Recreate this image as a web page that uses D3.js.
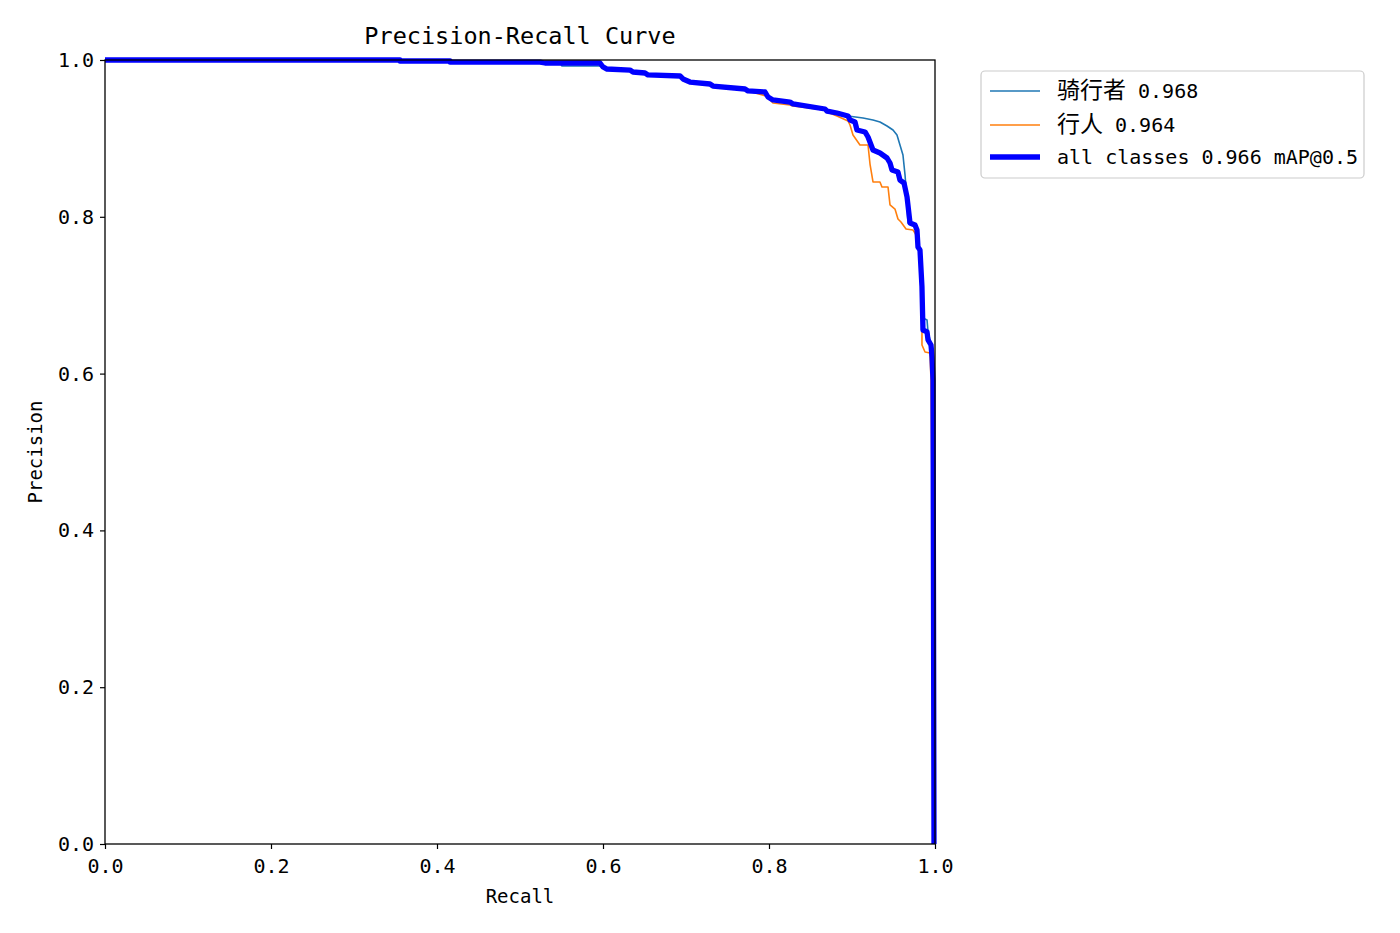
<!DOCTYPE html>
<html><head><meta charset="utf-8">
<script src="https://cdn.jsdelivr.net/npm/d3@7"></script>
<style>
body{margin:0;background:#fff;}
text{font-family:"DejaVu Sans Mono","Noto Sans CJK SC",monospace;fill:#000;}
</style></head>
<body><svg id="c" width="1400" height="933"></svg>
<script>
// ---- data: (recall, precision) points ----
const allRecall = [0,0.3554,0.3554,0.4157,0.4157,0.5241,0.5301,0.5964,0.6,0.6048,0.6325,0.6361,0.6506,0.6542,0.6928,0.6964,0.7048,0.7289,0.7325,0.7711,0.7747,0.7952,0.7988,0.8048,0.8253,0.8289,0.8675,0.8699,0.8819,0.8952,0.8976,0.9036,0.9060,0.9157,0.9193,0.9253,0.9337,0.9422,0.9458,0.9482,0.9554,0.9578,0.9627,0.9663,0.9699,0.9759,0.9783,0.9795,0.9819,0.9843,0.9855,0.9904,0.9916,0.9952,0.9964,0.9976,0.9982,0.9988];
const allPrecision = [1,1,0.9987,0.9987,0.9974,0.9974,0.9962,0.9962,0.9911,0.9885,0.9872,0.9847,0.9834,0.9809,0.9796,0.9758,0.9719,0.9694,0.9668,0.9630,0.9605,0.9592,0.9528,0.9490,0.9464,0.9439,0.9375,0.9349,0.9324,0.9286,0.9235,0.9209,0.9107,0.9082,0.9018,0.8852,0.8814,0.8750,0.8686,0.8597,0.8571,0.8469,0.8431,0.8253,0.7921,0.7895,0.7832,0.7615,0.7577,0.7105,0.6556,0.6531,0.6429,0.6365,0.6212,0.5918,0.3112,0];

const riderRecall = [0,0.3554,0.3554,0.4157,0.4157,0.5181,0.5217,0.5482,0.5506,0.5964,0.6024,0.6048,0.6325,0.6361,0.6506,0.6542,0.6928,0.6964,0.7048,0.7289,0.7325,0.7711,0.7747,0.7952,0.7988,0.8048,0.8253,0.8289,0.8675,0.8699,0.8819,0.8952,0.9133,0.9253,0.9337,0.9422,0.9494,0.9542,0.9578,0.9614,0.9639,0.9651,0.9675,0.9735,0.9783,0.9795,0.9819,0.9843,0.9855,0.9904,0.9916,0.9940,0.9964,0.9976,0.9988,0.9988];
const riderPrecision = [1,1,0.9987,0.9987,0.9974,0.9974,0.9962,0.9962,0.9923,0.9923,0.9898,0.9885,0.9872,0.9847,0.9834,0.9809,0.9796,0.9758,0.9719,0.9694,0.9668,0.9630,0.9605,0.9592,0.9528,0.9490,0.9464,0.9439,0.9375,0.9349,0.9324,0.9286,0.9260,0.9235,0.9209,0.9158,0.9107,0.9043,0.8916,0.8788,0.8533,0.8367,0.7921,0.7895,0.7832,0.7615,0.7577,0.7105,0.6709,0.6684,0.6531,0.6429,0.6212,0.5918,0.3112,0];

const pedRecall = [0,0.4157,0.4157,0.5964,0.6,0.6048,0.6325,0.6361,0.6506,0.6542,0.6928,0.6964,0.7048,0.7289,0.7325,0.7711,0.7747,0.7964,0.8048,0.8253,0.8289,0.8675,0.8699,0.8819,0.8952,0.8976,0.9012,0.9096,0.9193,0.9217,0.9253,0.9337,0.9361,0.9434,0.9458,0.9518,0.9554,0.9590,0.9651,0.9735,0.9759,0.9783,0.9795,0.9819,0.9831,0.9843,0.9843,0.9880,0.9940,0.9952,0.9976,0.9988];
const pedPrecision = [1,1,0.9987,0.9987,0.9911,0.9885,0.9872,0.9847,0.9834,0.9809,0.9796,0.9758,0.9719,0.9694,0.9668,0.9630,0.9605,0.9541,0.9452,0.9426,0.9413,0.9362,0.9337,0.9286,0.9222,0.9171,0.9043,0.8916,0.8916,0.8673,0.8444,0.8444,0.8380,0.8380,0.8151,0.8099,0.7972,0.7934,0.7844,0.7832,0.7793,0.7745,0.7615,0.7577,0.7105,0.6556,0.6365,0.6276,0.6263,0.5918,0.3112,0];

const xTicks = [0,0.2,0.4,0.6,0.8,1.0];
const yTicks = [0,0.2,0.4,0.6,0.8,1.0];
const legendLabels = ["骑行者 0.968","行人 0.964","all classes 0.966 mAP@0.5"];
const seriesColors = ["#1f77b4","#ff7f0e","#0000ff"];

// ---- drawing ----
const svg = d3.select("#c");
const L=105,R=935,T=60,B=844;
const x = d3.scaleLinear().domain([0,1]).range([L,R]);
const y = d3.scaleLinear().domain([0,1]).range([B,T]);

const series = [
  {r:riderRecall,p:riderPrecision,c:seriesColors[0],w:1.6},
  {r:pedRecall,p:pedPrecision,c:seriesColors[1],w:1.6},
  {r:allRecall,p:allPrecision,c:seriesColors[2],w:5.3}
];
const line = d3.line().x(d=>x(d[0])).y(d=>y(d[1]));
series.forEach(s=>{
  svg.append("path").attr("d",line(d3.zip(s.r,s.p)))
    .attr("fill","none").attr("stroke",s.c).attr("stroke-width",s.w)
    .attr("stroke-linejoin","round");
});

// axes
const fmt = d3.format(".1f");
const xAxis = svg.append("g").attr("transform",`translate(0,${B})`)
  .call(d3.axisBottom(x).tickValues(xTicks).tickFormat(fmt).tickSize(5).tickPadding(6));
const yAxis = svg.append("g").attr("transform",`translate(${L},0)`)
  .call(d3.axisLeft(y).tickValues(yTicks).tickFormat(fmt).tickSize(5).tickPadding(6));
[xAxis,yAxis].forEach(a=>{
  a.select(".domain").remove();
  a.selectAll(".tick line").attr("stroke","#000").attr("stroke-width",1.2);
  a.selectAll(".tick text").attr("font-size",20).attr("fill","#000")
    .style("font-family","'DejaVu Sans Mono',monospace");
});
xAxis.selectAll(".tick text").attr("dy","0.9em");

// frame
svg.append("rect").attr("x",L).attr("y",T).attr("width",R-L).attr("height",B-T)
  .attr("fill","none").attr("stroke","#000").attr("stroke-width",1.3);

// title and labels
svg.append("text").attr("x",(L+R)/2).attr("y",44).attr("text-anchor","middle")
  .attr("font-size",23.5).text("Precision-Recall Curve");
svg.append("text").attr("x",(L+R)/2).attr("y",903).attr("text-anchor","middle")
  .attr("font-size",19).text("Recall");
svg.append("text").attr("transform","translate(42,452) rotate(-90)").attr("text-anchor","middle")
  .attr("font-size",19).text("Precision");

// legend
const lg = svg.append("g");
lg.append("rect").attr("x",981).attr("y",71).attr("width",383).attr("height",107)
  .attr("rx",4).attr("fill","#fff").attr("fill-opacity",0.8)
  .attr("stroke","#cccccc").attr("stroke-width",1.2);
const rowsY=[91,125,157];
legendLabels.forEach((lab,i)=>{
  lg.append("line").attr("x1",990).attr("x2",1040).attr("y1",rowsY[i]).attr("y2",rowsY[i])
    .attr("stroke",seriesColors[i]).attr("stroke-width",series[i].w);
  const t = lg.append("text").attr("x",1057).attr("y",rowsY[i]+7).attr("font-size",20);
  const parts = lab.match(/[\u4e00-\u9fff]+|[^\u4e00-\u9fff]+/g);
  parts.forEach(pt=>{
    const cjk=/[\u4e00-\u9fff]/.test(pt);
    t.append("tspan").text(pt)
      .attr("font-size",cjk?23:20)
      .style("font-family",cjk?"'Noto Sans CJK SC'":"'DejaVu Sans Mono',monospace");
  });
});
</script></body></html>
